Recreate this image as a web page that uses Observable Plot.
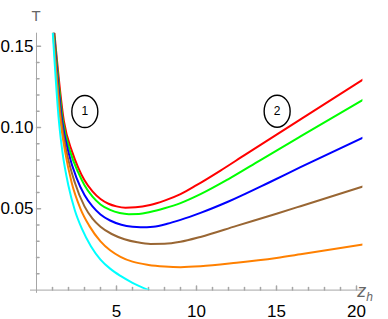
<!DOCTYPE html>
<html><head><meta charset="utf-8">
<script src="https://cdn.jsdelivr.net/npm/d3@7"></script>
<script src="https://cdn.jsdelivr.net/npm/@observablehq/plot@0.6"></script>
<style>html,body{margin:0;padding:0;background:#fff}svg{display:block}</style>
</head><body><div id="chart"></div>
<script>
// ---- data ----
const seriesNames = ["curve A", "curve B", "curve C", "curve D", "curve E", "curve F"];
const seriesColors = ["#ff0000", "#00ff00", "#0000ff", "#996633", "#ff8000", "#00ffff"];

const zRed = [1.12, 1.71, 2.23, 2.6, 3.0, 3.5, 4.0, 4.5, 5.0, 5.56, 6.2, 7.1, 8.0, 9.0, 10, 11.5, 13, 16.5, 20.4];
const tRed = [0.158, 0.104, 0.085, 0.0755, 0.0675, 0.0607, 0.0560, 0.0531, 0.0515, 0.0507, 0.0509, 0.0523, 0.0550, 0.0590, 0.0645, 0.0735, 0.083, 0.105, 0.1295];

const zGreen = [1.1, 1.65, 2.11, 2.6, 3.0, 3.5, 4.0, 4.6, 5.2, 5.77, 6.4, 7.1, 8.0, 9.0, 10.25, 12, 14, 16.5, 20.4];
const tGreen = [0.158, 0.104, 0.085, 0.0725, 0.0645, 0.0575, 0.0527, 0.0493, 0.0474, 0.0467, 0.0468, 0.0480, 0.0503, 0.0535, 0.0590, 0.0683, 0.080, 0.0945, 0.117];

const zBlue = [1.08, 1.6, 1.99, 2.5, 3.0, 3.5, 4.0, 4.6, 5.3, 6.0, 6.5, 7.3, 8.17, 9.0, 10.25, 12, 14.6, 16.5, 20.4];
const tBlue = [0.158, 0.104, 0.085, 0.069, 0.0585, 0.0515, 0.0465, 0.0428, 0.0402, 0.0389, 0.0386, 0.0390, 0.0408, 0.0432, 0.0475, 0.0545, 0.0665, 0.0756, 0.0937];

const zBrown = [1.06, 1.55, 1.88, 2.4, 3.0, 3.5, 4.0, 4.7, 5.5, 6.3, 7.125, 8.0, 9.0, 10.25, 12.5, 15, 16.5, 20.4];
const tBrown = [0.158, 0.104, 0.085, 0.066, 0.0515, 0.0440, 0.0390, 0.0345, 0.0313, 0.0294, 0.0284, 0.0285, 0.0297, 0.0327, 0.0395, 0.0470, 0.0516, 0.0637];

const zOrange = [1.04, 1.5, 1.79, 2.2, 2.75, 3.3, 4.0, 4.6, 5.25, 6.0, 7.0, 8.0, 9.0, 10.25, 12.5, 15, 16.5, 20.4];
const tOrange = [0.158, 0.104, 0.085, 0.066, 0.050, 0.0395, 0.0300, 0.0245, 0.0205, 0.0175, 0.0155, 0.0145, 0.0141, 0.0146, 0.0168, 0.0198, 0.0220, 0.028];

const zCyan = [1.02, 1.4, 1.62, 2.0, 2.4, 2.85, 3.4, 4.0, 4.6, 5.25, 6.0, 7.02];
const tCyan = [0.158, 0.104, 0.085, 0.064, 0.049, 0.0375, 0.027, 0.0188, 0.0132, 0.0087, 0.0045, 0];

const xMajorTicks = [5, 10, 15, 20];
const xTickLabels = ["5", "10", "15", "20"];
const xMinorTicks = [1, 2, 3, 4, 6, 7, 8, 9, 11, 12, 13, 14, 16, 17, 18, 19];
const yMajorTicks = [0.05, 0.10, 0.15];
const yTickLabels = ["0.05", "0.10", "0.15"];
const yMinorTicks = [0.01, 0.02, 0.03, 0.04, 0.06, 0.07, 0.08, 0.09, 0.11, 0.12, 0.13, 0.14];

const circleLabels = ["1", "2"];
const circleZ = [3.02, 15.04];
const circleT = [0.1098, 0.110];

const xDomain = [0, 20.4];
const yDomain = [0, 0.158];
const xAxisStart = -0.375;
const yAxisStart = -0.002;

// ---- build tables ----
const zs = [zRed, zGreen, zBlue, zBrown, zOrange, zCyan];
const ts = [tRed, tGreen, tBlue, tBrown, tOrange, tCyan];
const rows = [];
seriesNames.forEach((name, k) => {
  zs[k].forEach((z, i) => rows.push({series: name, z, T: ts[k][i]}));
});
const xMajor = xMajorTicks.map((v, i) => ({v, label: xTickLabels[i]}));
const yMajor = yMajorTicks.map((v, i) => ({v, label: yTickLabels[i]}));
const circles = circleLabels.map((label, i) => ({label, z: circleZ[i], T: circleT[i]}));

const tickShape = {draw(ctx, l) { ctx.moveTo(0, 0); ctx.lineTo(0, -l); }};
const ellipse = {draw(ctx) {
  const rx = 13, ry = 16, k = 0.5523;
  ctx.moveTo(rx, 0);
  ctx.bezierCurveTo(rx, ry * k, rx * k, ry, 0, ry);
  ctx.bezierCurveTo(-rx * k, ry, -rx, ry * k, -rx, 0);
  ctx.bezierCurveTo(-rx, -ry * k, -rx * k, -ry, 0, -ry);
  ctx.bezierCurveTo(rx * k, -ry, rx, -ry * k, rx, 0);
  ctx.closePath();
}};
const axisGray = "#a6a6a6";

const chart = Plot.plot({
  width: 388,
  height: 319,
  marginLeft: 36,
  marginRight: 25.6,
  marginTop: 32.7,
  marginBottom: 29.4,
  style: {fontFamily: "Liberation Sans, Arial, sans-serif", background: "#fff", overflow: "visible"},
  x: {domain: xDomain, axis: null},
  y: {domain: yDomain, axis: null},
  color: {domain: seriesNames, range: seriesColors},
  marks: [
    Plot.ruleY([0], {x1: xAxisStart, x2: xDomain[1], stroke: axisGray, strokeWidth: 1}),
    Plot.ruleX([0], {y1: yAxisStart, y2: yDomain[1], stroke: axisGray, strokeWidth: 1}),
    Plot.vector(xMajorTicks, {x: d => d, y: 0, length: 4, rotate: 0, anchor: "start", shape: tickShape, stroke: axisGray}),
    Plot.vector(xMinorTicks, {x: d => d, y: 0, length: 2.5, rotate: 0, anchor: "start", shape: tickShape, stroke: axisGray}),
    Plot.vector(yMajorTicks, {x: 0, y: d => d, length: 4, rotate: 90, anchor: "start", shape: tickShape, stroke: axisGray}),
    Plot.vector(yMinorTicks, {x: 0, y: d => d, length: 2.5, rotate: 90, anchor: "start", shape: tickShape, stroke: axisGray}),
    Plot.text(xMajor, {x: "v", y: 0, text: "label", dy: 21, fontSize: 17, fill: "#000"}),
    Plot.text(yMajor, {x: 0, y: "v", text: "label", dx: -3, textAnchor: "end", fontSize: 17, fill: "#000"}),
    Plot.line(rows, {x: "z", y: "T", z: "series", stroke: "series", strokeWidth: 2, curve: "monotone-x", clip: true}),
    Plot.dot(circles, {x: "z", y: "T", symbol: ellipse, stroke: "#000", strokeWidth: 1.4, fill: "none"}),
    Plot.text(circles, {x: "z", y: "T", text: "label", fontSize: 12, fill: "#000"})
  ]
});

const svg = d3.select(chart);
svg.append("text").attr("x", 36).attr("y", 21).attr("text-anchor", "middle")
  .attr("font-size", 15).attr("fill", "#666").text("T");
const zt = svg.append("text").attr("x", 365).attr("y", 297).attr("font-size", 18)
  .attr("font-style", "italic").attr("fill", "#666");
zt.append("tspan").text("z");
zt.append("tspan").attr("font-size", 12).attr("dy", 4).text("h");

document.getElementById("chart").appendChild(chart);
</script>
</body></html>
